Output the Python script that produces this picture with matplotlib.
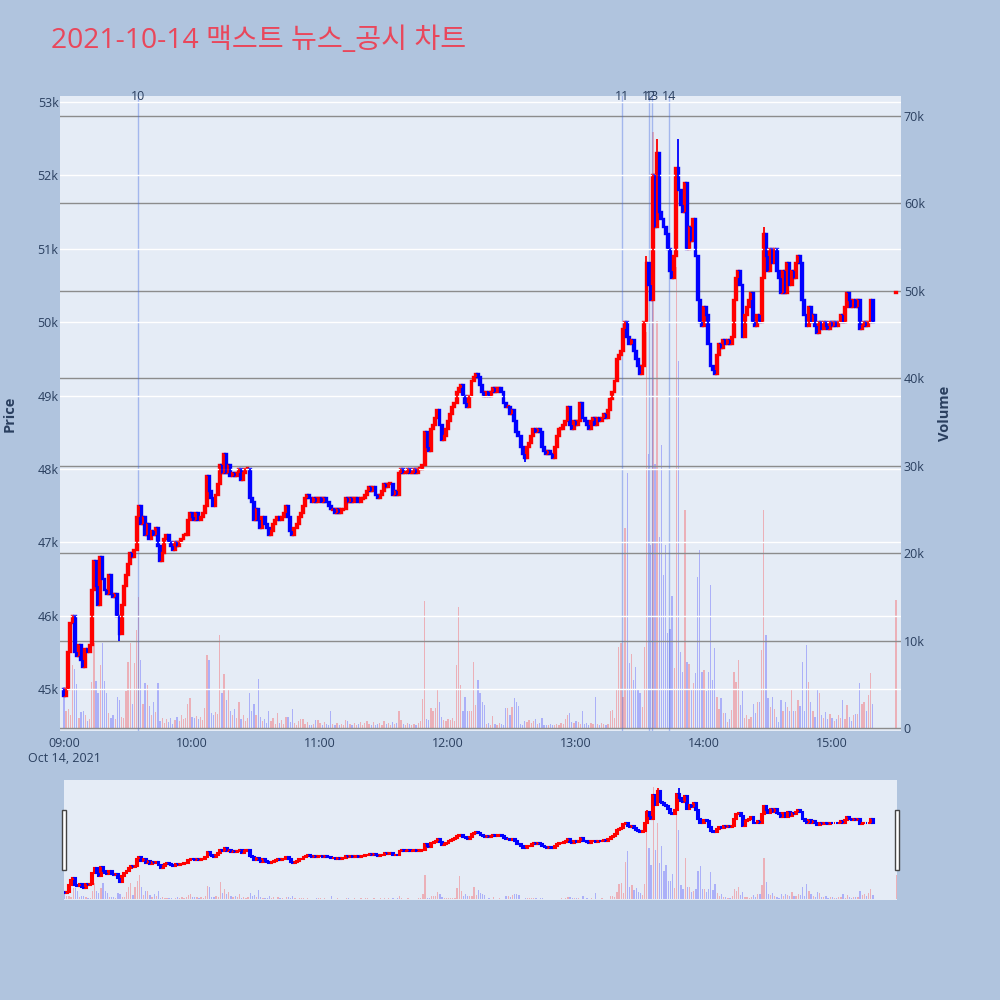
import numpy as np
import matplotlib.pyplot as plt
from matplotlib.patches import Rectangle
from matplotlib.transforms import blended_transform_factory

plt.rcParams['font.family'] = ['Open Sans', 'Noto Sans CJK KR', 'DejaVu Sans']

title = '2021-10-14 맥스트 뉴스_공시 차트'

# 1-minute closes from 09:00 (minute 0) to 15:19 (minute 379)
closes = [
    44900, 45000, 45500, 45900, 46000, 45500, 45450, 45600, 45400, 45300,
    45550, 45500, 45600, 46350, 46750, 46400, 46150, 46800, 46500, 46350,
    46300, 46550, 46300, 46250, 46300, 46000, 45750, 46150, 46400, 46550,
    46700, 46850, 46800, 46900, 47350, 47500, 47250, 47350, 47100, 47250,
    47050, 47150, 47100, 47200, 46950, 46750, 46850, 47050, 47100, 47000,
    46950, 46900, 47000, 46950, 47000, 47050, 47100, 47100, 47300, 47400,
    47350, 47300, 47400, 47300, 47350, 47400, 47500, 47900, 47700, 47600,
    47500, 47650, 47800, 48050, 47950, 48200, 47950, 48050, 47900, 47950,
    47900, 47950, 48000, 47850, 47950, 48000, 48000, 47600, 47550, 47300,
    47450, 47300, 47200, 47350, 47250, 47200, 47100, 47150, 47250, 47300,
    47350, 47300, 47350, 47400, 47500, 47350, 47150, 47100, 47200, 47250,
    47350, 47400, 47500, 47600, 47650, 47600, 47550, 47600, 47550, 47600,
    47600, 47550, 47600, 47550, 47500, 47450, 47450, 47400, 47450, 47400,
    47450, 47450, 47600, 47550, 47600, 47550, 47600, 47600, 47550, 47600,
    47600, 47650, 47700, 47750, 47700, 47750, 47650, 47600, 47650, 47700,
    47800, 47750, 47800, 47800, 47650, 47700, 47650, 47950, 48000, 47950,
    47950, 48000, 47950, 47950, 48000, 47950, 48000, 48000, 48050, 48500,
    48300, 48250, 48550, 48600, 48700, 48800, 48600, 48400, 48450, 48550,
    48650, 48750, 48850, 48900, 49050, 49100, 49150, 49000, 48900, 48850,
    49000, 49200, 49250, 49300, 49250, 49150, 49050, 49000, 49050, 49000,
    49050, 49100, 49050, 49100, 49100, 49050, 48900, 48850, 48850, 48750,
    48800, 48650, 48500, 48450, 48300, 48200, 48150, 48300, 48350, 48450,
    48550, 48500, 48550, 48500, 48300, 48250, 48200, 48250, 48200, 48150,
    48300, 48450, 48550, 48550, 48600, 48650, 48850, 48600, 48550, 48650,
    48600, 48650, 48900, 48700, 48650, 48600, 48550, 48650, 48700, 48600,
    48700, 48650, 48700, 48750, 48700, 48800, 48950, 49050, 49200, 49500,
    49550, 49600, 49900, 50000, 49800, 49700, 49750, 49600, 49500, 49400,
    49300, 49400, 50000, 50800, 50500, 50300, 52000, 51300, 52300, 51500,
    51400, 51300, 51200, 51000, 50700, 50600, 50900, 52100, 51800, 51600,
    51500, 51900, 51000, 51300, 51100, 51400, 50900, 50300, 50000, 49950,
    50200, 50100, 49700, 49400, 49350, 49300, 49550, 49700, 49650, 49750,
    49700, 49750, 49700, 49800, 50300, 50600, 50700, 50500, 49800, 50100,
    50200, 50300, 50400, 50000, 49950, 50100, 50000, 50600, 51200, 50900,
    50700, 51000, 50800, 51000, 50700, 50600, 50400, 50700, 50400, 50800,
    50500, 50700, 50600, 50800, 50900, 50800, 50300, 50100, 49950, 50200,
    50000, 50100, 49950, 49850, 50000, 49900, 50000, 49950, 49900, 50000,
    49950, 50000, 49950, 50000, 50100, 50000, 50200, 50400, 50300, 50200,
    50300, 50200, 50300, 49900, 49950, 50000, 49950, 50000, 50300, 50000,
]
first_open = 45000

# volume per minute, thousands of shares
volumes_k = [
    4.7, 2.0, 2.2, 1.5, 7.2, 6.8, 5.0, 1.2, 1.8, 2.0,
    1.5, 0.8, 1.0, 5.3, 9.7, 5.4, 4.0, 7.2, 9.7, 5.4,
    4.0, 1.7, 1.2, 1.5, 1.0, 3.6, 3.2, 1.3, 1.2, 4.2,
    7.6, 9.7, 2.8, 7.4, 11.2, 15.0, 7.8, 2.8, 5.1, 4.9,
    2.5, 1.5, 3.0, 1.8, 5.1, 0.8, 1.2, 0.6, 1.0, 0.7,
    1.1, 0.5, 0.9, 1.3, 0.8, 1.5, 1.0, 1.2, 2.8, 3.4,
    1.3, 1.2, 1.4, 1.0, 1.3, 0.9, 2.3, 8.3, 7.8, 1.7,
    1.5, 1.8, 1.6, 10.6, 4.0, 6.2, 3.2, 4.5, 2.0, 1.5,
    2.2, 1.2, 3.0, 1.0, 1.5, 0.8, 1.2, 4.0, 2.0, 2.8,
    1.5, 5.6, 1.3, 0.8, 1.0, 0.6, 2.0, 0.8, 1.2, 0.5,
    1.7, 0.6, 0.9, 0.5, 1.3, 1.3, 0.7, 2.2, 0.6, 0.4,
    0.8, 1.0, 1.0, 0.5, 0.7, 0.4, 0.3, 0.5, 0.9, 0.9,
    0.6, 0.4, 0.7, 0.5, 0.4, 2.0, 0.5, 0.3, 0.6, 0.4,
    0.5, 0.3, 0.9, 0.8, 0.5, 0.4, 0.6, 0.3, 0.5, 0.7,
    0.4, 0.6, 0.8, 0.5, 0.4, 0.7, 0.3, 0.5, 0.6, 0.4,
    0.8, 0.5, 0.6, 0.4, 0.7, 0.5, 0.6, 1.9, 0.9, 0.5,
    0.4, 0.6, 0.5, 0.3, 0.5, 0.4, 0.6, 0.8, 3.3, 14.5,
    1.0, 0.9, 2.3, 2.0, 2.3, 4.5, 3.0, 1.3, 0.9, 0.8,
    1.0, 0.9, 1.1, 0.8, 7.2, 13.9, 4.9, 2.0, 3.5, 2.0,
    2.0, 1.9, 7.6, 2.6, 5.5, 4.0, 3.0, 2.6, 0.5, 0.6,
    0.4, 1.4, 0.5, 0.4, 0.6, 0.5, 0.4, 2.3, 2.3, 1.5,
    2.4, 3.4, 3.0, 2.5, 0.5, 0.4, 0.8, 0.7, 0.9, 0.6,
    0.8, 1.0, 0.5, 0.6, 1.1, 0.3, 0.4, 0.3, 0.5, 0.4,
    0.3, 0.5, 0.4, 0.6, 0.5, 1.0, 1.5, 1.7, 0.7, 0.6,
    0.8, 0.7, 0.5, 1.9, 0.5, 0.6, 0.4, 0.6, 0.5, 3.6,
    0.5, 0.4, 0.6, 0.5, 0.4, 0.5, 1.9, 2.1, 1.2, 4.5,
    9.3, 9.7, 3.6, 22.9, 29.2, 7.4, 8.5, 5.5, 7.0, 4.5,
    4.0, 2.4, 9.3, 45.3, 31.3, 20.9, 68.2, 30.2, 46.5, 21.8,
    32.4, 17.5, 20.9, 10.9, 11.3, 15.1, 6.9, 52.7, 42.0, 8.7,
    6.4, 24.9, 7.5, 7.3, 4.3, 5.1, 6.3, 17.3, 20.4, 6.4,
    6.6, 4.2, 6.4, 16.4, 5.5, 9.1, 3.6, 2.2, 3.4, 1.7,
    1.7, 0.7, 1.0, 2.1, 6.4, 5.3, 7.8, 2.6, 4.2, 1.2,
    1.5, 1.0, 1.3, 2.8, 1.7, 3.0, 3.0, 8.9, 24.9, 10.6,
    3.4, 2.4, 3.6, 2.2, 1.3, 0.7, 3.2, 2.0, 3.0, 2.4,
    2.0, 4.5, 2.0, 2.0, 3.2, 2.5, 7.6, 2.0, 9.5, 5.3,
    3.0, 2.0, 1.3, 4.4, 4.0, 1.5, 1.2, 1.8, 1.0, 1.6,
    1.2, 0.8, 1.0, 1.5, 1.2, 3.2, 1.0, 2.6, 1.3, 0.8,
    1.5, 1.6, 1.6, 5.1, 2.8, 3.0, 2.0, 3.8, 6.3, 2.8,
]

# closing auction print at 15:30
auction_minute = 390
auction_price = 50400
auction_volume_k = 14.6

# extra wick extremes (minute: price)
wick_high = {278: 52500, 288: 52500, 328: 51300, 273: 50900}
wick_low = {26: 45650, 216: 48100, 285: 50600}

news_times = ['09:34:42', '13:21:34', '13:34:14', '13:35:38', '13:43:36']
news_labels = ['10', '11', '12', '13', '14']

price_ticks = [45000, 46000, 47000, 48000, 49000, 50000, 51000, 52000, 53000]
price_ticklabels = ['45k', '46k', '47k', '48k', '49k', '50k', '51k', '52k', '53k']
vol_ticks = [0, 10000, 20000, 30000, 40000, 50000, 60000, 70000]
vol_ticklabels = ['0', '10k', '20k', '30k', '40k', '50k', '60k', '70k']
time_ticks = [0, 60, 120, 180, 240, 300, 360]
time_ticklabels = ['09:00\nOct 14, 2021', '10:00', '11:00', '12:00', '13:00', '14:00', '15:00']

# ---- build OHLC ----
minutes = np.r_[np.arange(len(closes)), auction_minute]
c = np.array(closes + [auction_price], dtype=float)
o = np.r_[first_open, c[:-1]]
o[-1] = c[-1]
h = np.maximum(o, c)
l = np.minimum(o, c)
for m, v in wick_high.items():
    h[m] = max(h[m], v)
for m, v in wick_low.items():
    l[m] = min(l[m], v)
vol = np.array(volumes_k + [auction_volume_k]) * 1000
up = c >= o
colors = np.where(up, 'red', 'blue')

def to_min(t):
    hh, mm, ss = [int(x) for x in t.split(':')]
    return (hh - 9) * 60 + mm + ss / 60

news_x = [to_min(t) for t in news_times]

BG = '#B0C4DE'
PLOT_BG = '#E5ECF6'
TXT = '#2a3f5f'
PRICE_LIM = (44428, 53082)
VOL_LIM = (-340, 72290)


def draw(ax_p, ax_v, body_lw):
    ax_v.bar(minutes, vol, width=0.6, color=colors, alpha=0.25, linewidth=0)
    ax_p.vlines(minutes, l, h, colors=colors, linewidth=1.3)
    body = np.maximum(np.abs(c - o), 14)
    bottom = np.where(np.abs(c - o) < 14, (o + c) / 2 - 7, np.minimum(o, c))
    ax_p.bar(minutes, body, bottom=bottom, width=0.9, color=colors,
             edgecolor=colors, linewidth=body_lw)


fig = plt.figure(figsize=(10, 10), dpi=100, facecolor=BG)

# main chart
ax_p = fig.add_axes([0.060, 1 - 0.731, 0.841, 0.635])
ax_v = ax_p.twinx()
ax_p.set_zorder(ax_v.get_zorder() + 1)
ax_p.patch.set_visible(False)
ax_v.patch.set_visible(True)
ax_v.set_facecolor(PLOT_BG)

draw(ax_p, ax_v, 1.7)

ax_p.set_xlim(-1.875, 392.3)
ax_p.set_ylim(*PRICE_LIM)
ax_v.set_ylim(*VOL_LIM)

ax_p.set_yticks(price_ticks)
ax_p.set_yticklabels(price_ticklabels)
ax_v.set_yticks(vol_ticks)
ax_v.set_yticklabels(vol_ticklabels)
ax_p.set_xticks(time_ticks)
ax_p.set_xticklabels(time_ticklabels)

ax_p.grid(axis='y', color='white', linewidth=1.0)
ax_v.grid(axis='y', color='#8c8c8c', linewidth=1.0)
ax_p.tick_params(axis='y', length=0, pad=1, labelsize=9, labelcolor=TXT)
ax_v.tick_params(axis='y', length=0, pad=2, labelsize=9, labelcolor=TXT)
ax_p.tick_params(axis='x', length=0, pad=4, labelsize=9, labelcolor=TXT)
for a in (ax_p, ax_v):
    for s in a.spines.values():
        s.set_visible(False)

trans = blended_transform_factory(ax_p.transData, ax_p.transAxes)
for x, lab in zip(news_x, news_labels):
    ax_p.axvline(x, color='royalblue', alpha=0.4, linewidth=1.0, zorder=0.5)
    ax_p.text(x, 0.999, lab, transform=trans, ha='center', va='center',
              fontsize=9, color=TXT)

fig.text(0.010, 1 - 0.4135, 'Price', rotation=90, ha='center', va='center',
         fontsize=10.5, fontweight='bold', color=TXT)
fig.text(0.945, 1 - 0.4135, 'Volume', rotation=90, ha='center', va='center',
         fontsize=10.5, fontweight='bold', color=TXT)

fig.text(0.051, 1 - 0.0406, title, ha='left', va='center', fontsize=20.3,
         color='#E9475B')

# range slider
ax_s = fig.add_axes([0.064, 0.100, 0.833, 0.120])
ax_sv = ax_s.twinx()
ax_s.set_zorder(ax_sv.get_zorder() + 1)
ax_s.patch.set_visible(False)
ax_sv.patch.set_visible(True)
ax_sv.set_facecolor(PLOT_BG)
draw(ax_s, ax_sv, 1.5)
ax_s.set_xlim(-0.3, 390.3)
ax_s.set_ylim(*PRICE_LIM)
ax_sv.set_ylim(*VOL_LIM)
for a in (ax_s, ax_sv):
    a.set_xticks([])
    a.set_yticks([])
    for s in a.spines.values():
        s.set_visible(False)

for hx in (0.0615, 0.8945):
    fig.patches.append(Rectangle((hx, 0.130), 0.004, 0.060, transform=fig.transFigure,
                                 facecolor='white', edgecolor='#444444',
                                 linewidth=1.0, zorder=5))

fig.savefig('out.png', dpi=100, facecolor=BG)
